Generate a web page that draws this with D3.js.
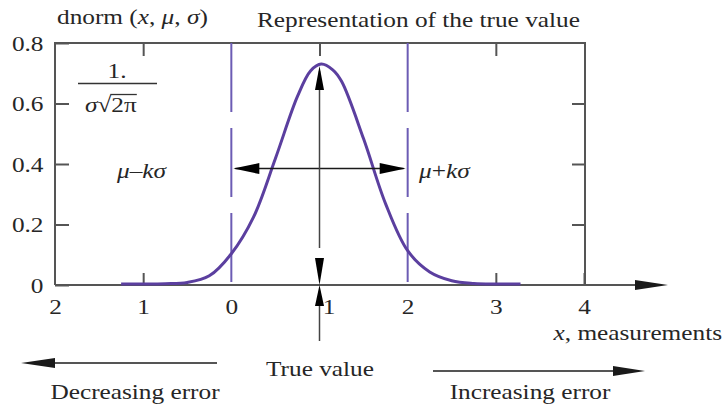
<!DOCTYPE html>
<html>
<head>
<meta charset="utf-8">
<script src="https://cdn.jsdelivr.net/npm/d3@7"></script>
<style>
  html, body { margin: 0; padding: 0; background: #fff; }
  svg text { font-family: "Liberation Serif", "Times New Roman", serif; fill: #262626; }
</style>
</head>
<body>
<svg id="chart" width="726" height="410"></svg>
<script>
// Density curve of the measurements, read along x
const curveX = [-1.25, -1.0, -0.75, -0.5, -0.25, 0.0, 0.25, 0.5, 0.75, 0.9, 1.02, 1.15, 1.25, 1.5, 1.75, 2.0, 2.25, 2.5, 2.75, 3.0, 3.28];
const curveY = [0.0, 0.0, 0.001, 0.005, 0.027, 0.10, 0.22, 0.415, 0.62, 0.705, 0.727, 0.708, 0.67, 0.48, 0.265, 0.11, 0.04, 0.011, 0.002, 0.0, 0.0];

// Axis ticks
const xTickValues = [-2, -1, 0, 1, 2, 3, 4];
const xTickLabels = ["2", "1", "0", "1", "2", "3", "4"];
const yTickValues = [0, 0.2, 0.4, 0.6, 0.8];
const yTickLabels = ["0", "0.2", "0.4", "0.6", "0.8"];

// Markers: true value, mu - k sigma, mu + k sigma, level of the spread arrow
const trueValue = 1;
const bounds = [0, 2];
const spreadLevel = 0.385;

const svg = d3.select("#chart");
const W = 726, H = 410;
const x = d3.scaleLinear().domain([-2, 4]).range([55, 584]);
const y = d3.scaleLinear().domain([0, 0.8]).range([285, 43]);

const AXIS = "#555", INK = "#1a1a1a", PURPLE = "#5b3f9f", DASH = "#6c5cb4";
const SX = 1.15;

svg.append("rect").attr("width", W).attr("height", H).attr("fill", "#fff");

// Label helper: text built from [string, italic] parts, horizontally widened
function label(x0, y0, parts, anchor = "start", size = 22) {
  const t = svg.append("text")
    .attr("transform", `translate(${x0},${y0}) scale(${SX},1)`)
    .attr("text-anchor", anchor)
    .attr("font-size", size);
  parts.forEach(([s, it]) => t.append("tspan").text(s).attr("font-style", it ? "italic" : "normal"));
  return t;
}

function arrowHead(tipX, tipY, dir, len, half, color) {
  // dir: unit vector pointing toward the tip
  const [dx, dy] = dir;
  const bx = tipX - dx * len, by = tipY - dy * len;
  const px = -dy * half, py = dx * half;
  svg.append("path")
    .attr("d", `M${tipX},${tipY}L${bx + px},${by + py}L${bx - px},${by - py}Z`)
    .attr("fill", color);
}

// Ticks
const gLeft = svg.append("g").attr("transform", `translate(${x.range()[0]},0)`)
  .call(d3.axisLeft(y).tickValues(yTickValues).tickSize(-14).tickPadding(10)
    .tickFormat((d, i) => yTickLabels[i]));
const gRight = svg.append("g").attr("transform", `translate(${x(4) + 1},0)`)
  .call(d3.axisRight(y).tickValues([0.2, 0.4, 0.6]).tickSize(-13).tickFormat(""));
const gTop = svg.append("g").attr("transform", `translate(0,${y(0.8)})`)
  .call(d3.axisTop(x).tickValues([-1, 1, 3]).tickSize(-13).tickFormat(""));
const gBottom = svg.append("g").attr("transform", `translate(0,${y(0)})`)
  .call(d3.axisBottom(x).tickValues(xTickValues).tickSize(-12).tickPadding(13)
    .tickFormat((d, i) => xTickLabels[i]));

[gLeft, gRight, gTop, gBottom].forEach(g => {
  g.select(".domain").remove();
  g.selectAll(".tick line").attr("stroke", AXIS).attr("stroke-width", 2);
  g.selectAll(".tick text")
    .attr("font-family", "Liberation Serif, Times New Roman, serif")
    .attr("font-size", 22).attr("fill", "#262626")
    .attr("transform", `scale(${SX},1)`);
});
gBottom.selectAll(".tick").filter(d => d === trueValue).select("text").attr("x", 8);
gBottom.selectAll(".tick").filter(d => d === -2 || d === 0 || d === 2 || d === 1).select("line").remove();

// Frame
const frame = svg.append("g").attr("stroke", AXIS).attr("stroke-width", 2).attr("fill", "none");
frame.append("path").attr("d", `M${x(-2)},${y(0)}V${y(0.8)}H${x(4) + 1}V${y(0)}`);
frame.append("line").attr("x1", x(-2)).attr("x2", 640).attr("y1", y(0)).attr("y2", y(0));
arrowHead(668, y(0), [1, 0], 33, 5, INK);

// mu - k sigma and mu + k sigma
svg.selectAll(".bound").data(bounds).enter().append("line")
  .attr("class", "bound")
  .attr("x1", d => x(d)).attr("x2", d => x(d))
  .attr("y1", y(0.8)).attr("y2", y(0))
  .attr("stroke", DASH).attr("stroke-width", 2)
  .attr("stroke-dasharray", "69,16");

// Density curve
const pts = curveX.map((v, i) => [v, curveY[i]]);
svg.append("path")
  .datum(pts)
  .attr("d", d3.line().x(d => x(d[0])).y(d => y(d[1]) - 1).curve(d3.curveCatmullRom.alpha(0.5)))
  .attr("fill", "none").attr("stroke", PURPLE).attr("stroke-width", 3)
  .attr("stroke-linejoin", "round");

// Spread arrow between the bounds
const ay = y(spreadLevel);
svg.append("line").attr("x1", x(bounds[0]) + 4).attr("x2", x(bounds[1]) - 4)
  .attr("y1", ay).attr("y2", ay).attr("stroke", INK).attr("stroke-width", 1.5);
arrowHead(x(bounds[0]) + 2, ay, [-1, 0], 26, 5.5, "#000");
arrowHead(x(bounds[1]) - 2, ay, [1, 0], 26, 5.5, "#000");

// True value arrow
const tx = x(trueValue);
svg.append("line").attr("x1", tx).attr("x2", tx).attr("y1", y(0.727) + 6).attr("y2", 248)
  .attr("stroke", "#444").attr("stroke-width", 1.5);
svg.append("line").attr("x1", tx).attr("x2", tx).attr("y1", y(0) + 10).attr("y2", 341)
  .attr("stroke", "#444").attr("stroke-width", 1.5);
arrowHead(tx, y(0.727) + 1, [0, -1], 24, 4.5, "#000");
arrowHead(tx, y(0), [0, 1], 27, 4.5, "#000");
arrowHead(tx, y(0), [0, -1], 21, 4.5, "#000");

// Direction arrows under the axis
svg.append("line").attr("x1", 217).attr("x2", 40).attr("y1", 363).attr("y2", 363)
  .attr("stroke", AXIS).attr("stroke-width", 2);
arrowHead(21, 363, [-1, 0], 34, 5, INK);
svg.append("line").attr("x1", 433).attr("x2", 620).attr("y1", 371).attr("y2", 371)
  .attr("stroke", AXIS).attr("stroke-width", 2);
arrowHead(645, 371, [1, 0], 32, 5, INK);

// Texts
label(57, 24, [["dnorm (", false], ["x", true], [", ", false], ["\u03bc", true], [", ", false], ["\u03c3", true], [")", false]]);
label(257, 27, [["Representation of the true value", false]]);
label(117, 178, [["\u03bc", true], ["\u2013", false], ["k\u03c3", true]]);
label(419, 178, [["\u03bc", true], ["+", false], ["k\u03c3", true]]);
label(722, 340, [["x", true], [", measurements", false]], "end");
label(320, 376, [["True value", false]], "middle");
label(135, 399, [["Decreasing error", false]], "middle");
label(530, 399, [["Increasing error", false]], "middle");

// 1 / (sigma sqrt(2 pi))
label(117, 78, [["1.", false]], "middle");
svg.append("line").attr("x1", 78).attr("x2", 157).attr("y1", 83.5).attr("y2", 83.5)
  .attr("stroke", "#333").attr("stroke-width", 1.5);
const rootPart = label(85, 112, [["\u03c3", true], ["\u221a", false]]);
const rw = rootPart.node().getBBox().width * SX;
const radicand = label(85 + rw, 112, [["2\u03c0", false]]);
const rb = radicand.node().getBBox();
svg.append("line").attr("x1", 85 + rw - 1).attr("x2", 85 + rw + rb.width * SX)
  .attr("y1", 112 + rb.y + 2).attr("y2", 112 + rb.y + 2)
  .attr("stroke", "#333").attr("stroke-width", 1.3);
</script>
</body>
</html>
